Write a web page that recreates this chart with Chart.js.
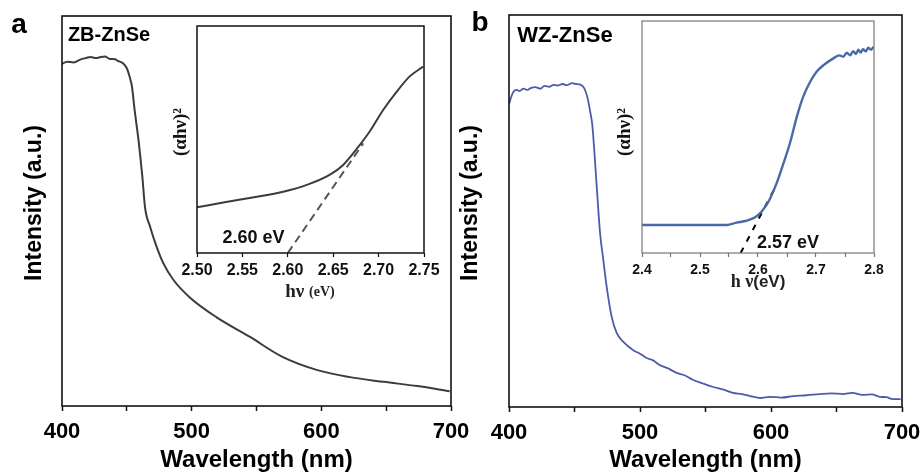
<!DOCTYPE html>
<html>
<head>
<meta charset="utf-8">
<script src="https://cdn.jsdelivr.net/npm/chart.js@4.4.0/dist/chart.umd.min.js"></script>
<style>
  body { margin: 0; background: #fff; }
  #wrap { position: relative; width: 924px; height: 473px; overflow: hidden; }
  #wrap div { position: absolute; }
</style>
</head>
<body>
<div id="wrap">
  <div style="left:0;top:0;width:480px;height:473px"><canvas id="mainA"></canvas></div>
  <div style="left:455px;top:0;width:480px;height:473px"><canvas id="mainB"></canvas></div>
  <div style="left:150px;top:10px;width:300px;height:300px"><canvas id="insetA"></canvas></div>
  <div style="left:590px;top:5px;width:300px;height:300px"><canvas id="insetB"></canvas></div>
</div>
<script>
// ZB-ZnSe absorption spectrum (wavelength nm / intensity a.u.)
const zbWave = [400, 404, 409, 414, 418, 422, 426, 429, 433, 437, 441, 443, 447, 450, 452, 454, 456, 459, 462, 464, 468, 473, 478, 486, 499, 519, 545, 570, 597, 622, 648, 674, 699];
const zbInt  = [87.7, 88.3, 88.1, 88.8, 89.2, 89.5, 89.2, 89.4, 89.6, 89.0, 88.9, 88.5, 87.9, 86.6, 84.6, 81.8, 75.9, 68.2, 58.7, 51.0, 45.9, 40.8, 36.7, 32.3, 27.7, 22.8, 17.7, 12.6, 9.2, 7.4, 6.2, 5.1, 3.8];

// WZ-ZnSe absorption spectrum
const wzWave = [400, 403, 406, 408, 411, 414, 417, 420, 424, 427, 431, 434, 437, 441, 444, 448, 451, 454, 457.5, 460, 462, 463.6, 467, 469.5, 472, 474.6, 478.4, 482.2, 487.3, 494.9, 500, 505, 510, 515, 521, 528, 534, 540.7, 548, 556, 563, 571, 578, 584, 592, 599, 608, 617, 627, 637, 646, 655, 662, 670, 677, 683, 688, 693, 699];
const wzInt  = [77.3, 80.2, 80.9, 80.6, 81.2, 80.9, 81.4, 81.6, 81.2, 81.9, 81.7, 82.2, 82.0, 82.4, 82.1, 82.6, 82.4, 82.3, 81.3, 78.8, 75.3, 71.9, 56.1, 44.4, 37.5, 30.6, 23.0, 18.9, 16.6, 14.5, 13.6, 12.5, 11.9, 10.7, 9.9, 8.7, 8.1, 6.9, 6.0, 5.1, 4.5, 3.6, 3.3, 2.8, 2.3, 2.6, 2.4, 2.8, 3.0, 3.3, 3.5, 3.3, 3.6, 3.1, 3.2, 2.6, 2.5, 2.0, 2.0];

// insets: (alpha h nu)^2 vs photon energy
const zbEv   = [2.500, 2.529, 2.566, 2.595, 2.621, 2.646, 2.661, 2.675, 2.690, 2.705, 2.720, 2.734, 2.749];
const zbAbs  = [20.1, 22.2, 24.8, 27.0, 30.0, 34.4, 38.8, 45.4, 53.4, 63.0, 71.1, 77.7, 82.1];
const zbFitEv  = [2.600, 2.683];
const zbFitAbs = [0, 48.3];

const wzEv   = [2.400, 2.450, 2.500, 2.546, 2.563, 2.580, 2.595, 2.606, 2.618, 2.632, 2.644, 2.655, 2.667, 2.678, 2.690, 2.701, 2.713, 2.730, 2.740, 2.747, 2.753, 2.759, 2.764, 2.769, 2.773, 2.777, 2.781, 2.786, 2.790, 2.795, 2.799];
const wzAbs  = [12.1, 12.1, 12.1, 12.1, 13.1, 13.9, 15.4, 17.8, 22.1, 30.0, 38.7, 47.3, 58.8, 67.4, 73.8, 78.1, 81.0, 83.9, 85.2, 84.6, 86.3, 85.2, 87.0, 85.8, 87.6, 86.4, 87.8, 86.9, 88.5, 87.6, 88.9];
const wzFitEv  = [2.570, 2.628];
const wzFitAbs = [0, 27.5];

const waveTicks = [400, 500, 600, 700];

const sans = "Arial, 'Liberation Sans', sans-serif";
const serif = "'Times New Roman', 'Liberation Serif', serif";

function pts(xs, ys) {
  return xs.map((x, i) => ({x: x, y: ys[i]}));
}

// frame round the plot area
const framePlugin = {
  id: 'frame',
  afterDraw(chart, args, opts) {
    const {ctx, chartArea: a} = chart;
    ctx.save();
    ctx.strokeStyle = opts.color || '#000';
    ctx.lineWidth = opts.width || 1.5;
    ctx.strokeRect(a.left, a.top, a.right - a.left, a.bottom - a.top);
    ctx.restore();
  }
};

// free text: panel letters, sample names, gap values, axis titles
// an item may have several parts in different fonts, drawn side by side
const notesPlugin = {
  id: 'notes',
  afterDraw(chart, args, opts) {
    const ctx = chart.ctx;
    (opts.items || []).forEach(n => {
      const parts = n.parts || [{text: n.text, font: n.font}];
      ctx.save();
      ctx.translate(n.x, n.y);
      if (n.rotate) ctx.rotate(n.rotate);
      ctx.fillStyle = n.color || '#000';
      ctx.textBaseline = n.baseline || 'middle';
      ctx.textAlign = 'left';
      let total = 0;
      parts.forEach(p => { ctx.font = p.font; total += ctx.measureText(p.text).width; });
      let x = -total / 2;
      parts.forEach(p => {
        ctx.font = p.font;
        ctx.fillText(p.text, x, 0);
        x += ctx.measureText(p.text).width;
      });
      ctx.restore();
    });
  }
};

function mainChart(id, xs, ys, color, lw, yWidth, xHeight, pad, notes) {
  return new Chart(document.getElementById(id), {
    type: 'line',
    data: {
      datasets: [{
        data: pts(xs, ys),
        borderColor: color,
        borderWidth: lw,
        pointRadius: 0,
        cubicInterpolationMode: 'monotone'
      }]
    },
    options: {
      responsive: true,
      maintainAspectRatio: false,
      animation: false,
      layout: {padding: pad},
      plugins: {legend: {display: false}, tooltip: {enabled: false},
        frame: {color: '#111', width: 1.6}, notes: {items: notes}},
      scales: {
        x: {
          type: 'linear', min: 400, max: 700,
          afterFit: s => { s.height = xHeight; },
          border: {display: false},
          grid: {drawOnChartArea: false, tickLength: 5, tickColor: '#111', tickWidth: 1.5},
          ticks: {
            stepSize: 50, autoSkip: false, maxRotation: 0, padding: 8, color: '#000',
            font: {family: sans, size: 22, weight: 'bold'},
            callback: v => waveTicks.includes(v) ? v : ''
          },
          title: {display: true, text: 'Wavelength (nm)', color: '#000',
            font: {family: sans, size: 24, weight: 'bold', lineHeight: 1}, padding: {top: 0, bottom: 1}}
        },
        y: {
          min: 0, max: 100,
          afterFit: s => { s.width = yWidth; },
          border: {display: false},
          grid: {display: false},
          ticks: {display: false}
        }
      }
    },
    plugins: [framePlugin, notesPlugin]
  });
}

function insetChart(id, xs, ys, fitX, fitY, opt) {
  return new Chart(document.getElementById(id), {
    type: 'line',
    data: {
      datasets: [{
        data: pts(xs, ys),
        borderColor: opt.color,
        borderWidth: opt.lw,
        pointRadius: 0,
        cubicInterpolationMode: 'monotone'
      }, {
        data: pts(fitX, fitY),
        borderColor: opt.fitColor,
        borderWidth: 2,
        borderDash: opt.dash,
        pointRadius: 0
      }]
    },
    options: {
      responsive: true,
      maintainAspectRatio: false,
      animation: false,
      layout: {padding: opt.pad},
      plugins: {legend: {display: false}, tooltip: {enabled: false},
        frame: {color: opt.frameColor, width: opt.frameWidth}, notes: {items: opt.notes}},
      scales: {
        x: {
          type: 'linear', min: opt.min, max: opt.max,
          afterFit: s => { s.height = opt.xHeight; },
          border: {display: false},
          grid: {drawOnChartArea: false, tickLength: 4, tickColor: opt.frameColor, tickWidth: 1.2},
          ticks: {
            stepSize: 0.05, autoSkip: false, maxRotation: 0, padding: opt.tickPad, color: '#111',
            font: {family: sans, size: opt.tickSize, weight: 'bold'},
            callback: opt.tickLabel
          }
        },
        y: {
          min: 0, max: 100,
          afterFit: s => { s.width = opt.yWidth; },
          border: {display: false},
          grid: {display: false},
          ticks: {display: false}
        }
      }
    },
    plugins: [framePlugin, notesPlugin]
  });
}

const upright = -Math.PI / 2;

mainChart('mainA', zbWave, zbInt, '#3c3c3c', 2, 62, 67, {left: 0, right: 29, top: 16, bottom: 0}, [
  {text: 'a', x: 19, y: 25, font: 'bold 28px ' + sans},
  {text: 'ZB-ZnSe', x: 109, y: 35, font: 'bold 20px ' + sans},
  {text: 'Intensity (a.u.)', x: 35, y: 203, rotate: upright, font: 'bold 23px ' + sans}
]);

mainChart('mainB', wzWave, wzInt, '#4b5cab', 1.8, 54, 66, {left: 0, right: 33, top: 15, bottom: 0}, [
  {text: 'b', x: 25, y: 23, font: 'bold 28px ' + sans},
  {text: 'WZ-ZnSe', x: 110, y: 36, font: 'bold 22px ' + sans},
  {text: 'Intensity (a.u.)', x: 16, y: 203, rotate: upright, font: 'bold 23px ' + sans}
]);

insetChart('insetA', zbEv, zbAbs, zbFitEv, zbFitAbs, {
  min: 2.5, max: 2.75, color: '#3c3c3c', lw: 2, fitColor: '#555', dash: [8, 5],
  frameColor: '#111', frameWidth: 1.5, pad: {left: 0, right: 26, top: 16, bottom: 0},
  yWidth: 47, xHeight: 57, tickSize: 16, tickPad: 4,
  tickLabel: v => v.toFixed(2),
  notes: [
    {text: '2.60 eV', x: 103.5, y: 228.5, font: 'bold 18px ' + sans, color: '#111'},
    {text: '(αhν)²', x: 31, y: 122, rotate: upright, font: 'bold 19px ' + serif, color: '#111'},
    {x: 160, y: 282, color: '#222', parts: [
      {text: 'hν ', font: 'bold 19px ' + serif},
      {text: '(eV)', font: 'bold 14px ' + serif}
    ]}
  ]
});

insetChart('insetB', wzEv, wzAbs, wzFitEv, wzFitAbs, {
  min: 2.4, max: 2.8, color: '#4a6aa6', lw: 2.4, fitColor: '#000', dash: [6, 7],
  frameColor: '#777', frameWidth: 1.2, pad: {left: 0, right: 16, top: 16, bottom: 0},
  yWidth: 52, xHeight: 52, tickSize: 14, tickPad: 5,
  tickLabel: v => Math.round(v * 100) % 10 === 0 ? v.toFixed(1) : '',
  notes: [
    {text: '2.57 eV', x: 198, y: 238, font: 'bold 18px ' + sans, color: '#111'},
    {text: '(αhν)²', x: 35, y: 127, rotate: upright, font: 'bold 19px ' + serif, color: '#111'},
    {x: 168, y: 277, color: '#222', parts: [
      {text: 'h ν', font: 'bold 18px ' + serif},
      {text: '(eV)', font: 'bold 17px ' + sans}
    ]}
  ]
});
</script>
</body>
</html>
